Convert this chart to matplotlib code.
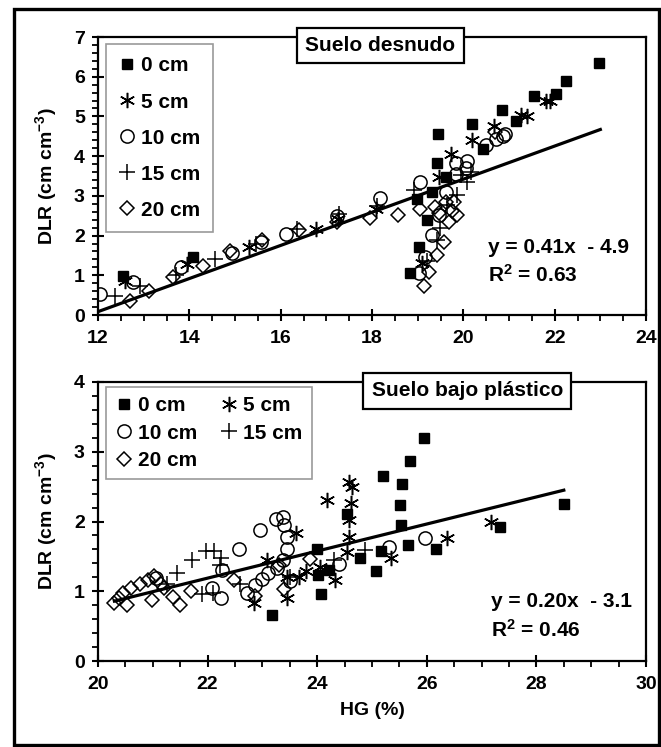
import matplotlib
matplotlib.use("Agg")
import matplotlib.pyplot as plt
from matplotlib.ticker import MultipleLocator
from matplotlib.patches import Rectangle
import numpy as np

plt.rcParams['font.family'] = ['Liberation Sans', 'DejaVu Sans']
plt.rcParams['font.weight'] = 'bold'
plt.rcParams['mathtext.fontset'] = 'custom'
plt.rcParams['mathtext.rm'] = 'Liberation Sans:bold'
plt.rcParams['mathtext.it'] = 'Liberation Sans:bold'
plt.rcParams['mathtext.bf'] = 'Liberation Sans:bold'

# ---------------- Data: Suelo desnudo ----------------
d_x0 = [12.54, 14.08, 18.84, 19.02, 18.99, 19.21, 19.32, 19.61, 19.43, 19.44, 20.18, 20.43, 20.84, 21.15, 21.55, 22.04, 22.24, 22.97]
d_y0 = [0.97, 1.47, 1.05, 1.72, 2.91, 2.40, 3.10, 3.47, 3.83, 4.57, 4.82, 4.19, 5.15, 4.88, 5.52, 5.57, 5.88, 6.34]
d_x5 = [12.59, 13.94, 15.31, 16.78, 17.25, 18.09, 19.10, 19.46, 19.72, 20.19, 20.68, 21.26, 21.40, 21.81, 21.90]
d_y5 = [0.86, 1.28, 1.72, 2.16, 2.42, 2.66, 1.30, 3.47, 4.06, 4.40, 4.75, 5.04, 5.00, 5.38, 5.40]
d_x10 = [12.04, 12.76, 13.81, 14.94, 15.58, 16.11, 17.23, 18.18, 19.06, 19.03, 19.17, 19.32, 19.46, 19.61, 19.83, 19.83, 20.09, 20.05, 20.49, 20.71, 20.86, 20.92]
d_y10 = [0.53, 0.82, 1.20, 1.57, 1.85, 2.03, 2.49, 2.94, 3.35, 1.05, 1.46, 2.01, 2.51, 3.10, 3.56, 3.83, 3.89, 3.70, 4.27, 4.43, 4.50, 4.55]
d_x15 = [12.37, 12.92, 13.70, 14.56, 15.45, 16.36, 17.28, 18.10, 18.91, 19.20, 19.43, 19.48, 19.65, 19.87, 19.94, 20.16, 20.09]
d_y15 = [0.48, 0.74, 1.00, 1.40, 1.78, 2.16, 2.55, 2.75, 3.14, 1.35, 1.88, 2.20, 2.78, 3.02, 3.52, 3.60, 3.35]
d_x20 = [12.71, 13.12, 13.65, 14.29, 14.89, 15.60, 16.40, 17.23, 17.96, 18.56, 19.06, 19.13, 19.25, 19.43, 19.57, 19.69, 19.87, 19.79, 19.61, 19.39, 19.46, 19.76, 20.70]
d_y20 = [0.36, 0.61, 0.95, 1.24, 1.61, 1.89, 2.14, 2.33, 2.45, 2.53, 2.68, 0.73, 1.09, 1.51, 1.84, 2.33, 2.51, 2.85, 2.85, 2.72, 2.56, 2.63, 4.60]
d_fit_range = [12.0, 23.0]
d_slope, d_intercept = 0.417, -4.92
d_eq = "y = 0.41x  - 4.9"
d_r2 = "R$^2$ = 0.63"

# ---------------- Data: Suelo bajo plástico ----------------
p_x0 = [23.18, 23.99, 24.01, 24.07, 24.21, 24.54, 24.79, 25.08, 25.17, 25.20, 25.53, 25.51, 25.55, 25.65, 25.70, 25.94, 26.16, 27.33, 28.51]
p_y0 = [0.66, 1.61, 1.23, 0.96, 1.31, 2.11, 1.47, 1.29, 1.57, 2.65, 1.95, 2.23, 2.54, 1.66, 2.87, 3.19, 1.60, 1.92, 2.25]
p_x5 = [22.84, 23.08, 23.44, 23.45, 23.62, 23.66, 23.80, 24.05, 24.18, 24.32, 24.58, 24.63, 24.61, 24.58, 24.58, 24.55, 25.35, 26.37, 27.17]
p_y5 = [0.83, 1.45, 0.90, 1.20, 1.84, 1.20, 1.29, 1.35, 2.31, 1.16, 2.57, 2.50, 2.26, 2.02, 1.78, 1.56, 1.47, 1.76, 2.00]
p_x10 = [21.06, 22.08, 22.24, 22.27, 22.57, 22.72, 22.87, 22.95, 22.99, 23.11, 23.24, 23.26, 23.38, 23.40, 23.44, 23.44, 23.38, 23.51, 24.40, 25.31, 25.96]
p_y10 = [1.19, 1.04, 0.91, 1.30, 1.60, 0.97, 1.09, 1.88, 1.18, 1.26, 2.03, 1.33, 2.07, 1.95, 1.78, 1.61, 1.45, 1.14, 1.39, 1.63, 1.77]
p_x15 = [21.26, 21.45, 21.72, 21.90, 21.97, 22.12, 22.24, 22.22, 22.10, 22.60, 23.50, 24.30, 24.87]
p_y15 = [1.11, 1.26, 1.45, 0.96, 1.57, 1.57, 1.47, 1.38, 0.97, 1.10, 1.20, 1.45, 1.59]
p_x20 = [20.30, 20.38, 20.45, 20.53, 20.61, 20.77, 20.91, 21.03, 20.98, 21.15, 21.20, 21.37, 21.50, 21.70, 22.48, 22.86, 23.30, 23.40, 23.86]
p_y20 = [0.835, 0.90, 0.97, 0.80, 1.04, 1.10, 1.16, 1.22, 0.88, 1.10, 1.05, 0.92, 0.80, 1.00, 1.16, 0.93, 1.37, 1.03, 1.46]
p_fit_range = [20.3, 28.5]
p_slope, p_intercept = 0.194, -3.08
p_eq = "y = 0.20x  - 3.1"
p_r2 = "R$^2$ = 0.46"

labels = ["0 cm", "5 cm", "10 cm", "15 cm", "20 cm"]

ASTER = (6, 2, 0)
styles = [
    dict(marker='s', ms=6.6, mfc='black', mec='black', mew=1.0),
    dict(marker=ASTER, ms=11, mfc='none', mec='black', mew=1.1),
    dict(marker='o', ms=9.5, mfc='none', mec='black', mew=1.1),
    dict(marker='+', ms=11, mfc='none', mec='black', mew=1.1),
    dict(marker='D', ms=7.3, mfc='none', mec='black', mew=1.1),
]

W, H = 661, 747
fig = plt.figure(figsize=(W / 100, H / 100), dpi=100)

def px_axes(l, t, r, b):
    return fig.add_axes([l / W, 1 - b / H, (r - l) / W, (b - t) / H])

ax1 = px_axes(98, 37, 646, 315)
ax2 = px_axes(98, 382, 646, 661)

def style_axes(ax, xlim, ylim, xmaj, xmin, ymaj, ymin):
    ax.set_xlim(*xlim)
    ax.set_ylim(*ylim)
    ax.xaxis.set_major_locator(MultipleLocator(xmaj))
    ax.xaxis.set_minor_locator(MultipleLocator(xmin))
    ax.yaxis.set_major_locator(MultipleLocator(ymaj))
    ax.yaxis.set_minor_locator(MultipleLocator(ymin))
    for s in ax.spines.values():
        s.set_linewidth(1.6)
    ax.tick_params(which='major', direction='inout', length=9, width=1.5,
                   labelsize=14, pad=5, top=False, right=False)
    ax.tick_params(axis='x', which='major', pad=6)
    ax.tick_params(which='minor', direction='out', length=4, width=1.3,
                   top=False, right=False)
    for lab in ax.get_xticklabels() + ax.get_yticklabels():
        lab.set_fontweight('bold')
    ax.set_ylabel("DLR (cm cm$^{-3}$)", fontsize=14, fontweight='bold')
    ax.yaxis.set_label_coords(-0.072, 0.5)

def draw_panel(ax, xs, ys, fit_range, slope, intercept):
    handles = []
    for x, y, st, lab in zip(xs, ys, styles, labels):
        h, = ax.plot(x, y, linestyle='none', label=lab, zorder=3, **st)
        handles.append(h)
    fx = np.array(fit_range)
    ax.plot(fx, slope * fx + intercept, color='black', lw=2.3, zorder=4)
    return handles

h1 = draw_panel(ax1, [d_x0, d_x5, d_x10, d_x15, d_x20],
                [d_y0, d_y5, d_y10, d_y15, d_y20], d_fit_range, d_slope, d_intercept)
style_axes(ax1, (12, 24), (0, 7), 2, 0.5, 1, 0.2)

h2 = draw_panel(ax2, [p_x0, p_x5, p_x10, p_x15, p_x20],
                [p_y0, p_y5, p_y10, p_y15, p_y20], p_fit_range, p_slope, p_intercept)
style_axes(ax2, (20, 30), (0, 4), 2, 0.5, 1, 0.2)
ax2.set_xlabel("HG (%)", fontsize=14, fontweight='bold', labelpad=7)

leg1 = ax1.legend(handles=h1, loc='upper left', bbox_to_anchor=(0.0146, 0.975),
                  frameon=True, fancybox=False, fontsize=15, labelspacing=0.82,
                  handlelength=0.8, handletextpad=0.3, borderpad=0.6, borderaxespad=0)
leg1.get_frame().set_edgecolor('#808080')
leg1.get_frame().set_linewidth(1.2)

order = [0, 2, 4, 1, 3]
leg2 = ax2.legend(handles=[h2[i] for i in order], loc='upper left', bbox_to_anchor=(0.0146, 0.982),
                  ncol=2, frameon=True, fancybox=False, fontsize=15, labelspacing=0.4,
                  handlelength=0.8, handletextpad=0.3, columnspacing=1.1, borderpad=0.45,
                  borderaxespad=0)
leg2.get_frame().set_edgecolor('#808080')
leg2.get_frame().set_linewidth(1.2)

box = dict(boxstyle='square,pad=0.4', facecolor='white', edgecolor='black', linewidth=1.6)
ax1.text(0.5155, 0.969, "Suelo desnudo", transform=ax1.transAxes, ha='center', va='center',
         fontsize=15, fontweight='bold', bbox=box, zorder=10)
ax2.text(0.674, 0.968, "Suelo bajo plástico", transform=ax2.transAxes, ha='center', va='center',
         fontsize=15, fontweight='bold', bbox=box, zorder=10)

ax1.text(20.53, 1.69, d_eq, fontsize=15, fontweight='bold', va='center', ha='left')
ax1.text(20.53, 1.0, d_r2, fontsize=15, fontweight='bold', va='center', ha='left')
ax2.text(27.18, 0.86, p_eq, fontsize=15, fontweight='bold', va='center', ha='left')
ax2.text(27.18, 0.44, p_r2, fontsize=15, fontweight='bold', va='center', ha='left')

fig.patches.append(Rectangle((14 / W, 1 - 745 / H), (659 - 14) / W, (745 - 9) / H,
                             transform=fig.transFigure, fill=False, edgecolor='black',
                             linewidth=2.4))

fig.savefig("out.png", dpi=100)
